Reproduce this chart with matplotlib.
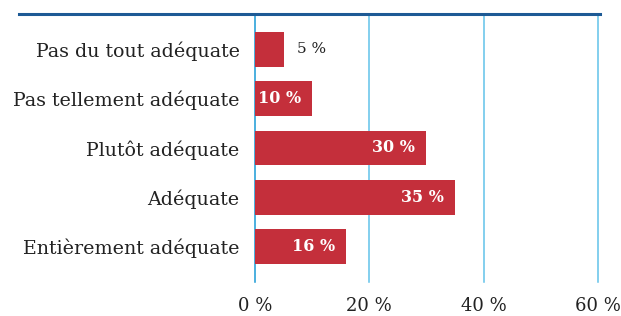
import matplotlib.pyplot as plt
from matplotlib.lines import Line2D

categories = ["Pas du tout adéquate", "Pas tellement adéquate", "Plutôt adéquate",
              "Adéquate", "Entièrement adéquate"]
values = [5, 10, 30, 35, 16]
ticks = [0, 20, 40, 60]
tick_labels = ["0 %", "20 %", "40 %", "60 %"]

plt.rcParams['font.family'] = ['DejaVu Serif']

fig = plt.figure(figsize=(6.21, 3.16), dpi=100)
ax = fig.add_axes([0.4106, 0.1076, 0.5523, 0.8481])

bar_color = '#c42f3b'
ypos = list(range(len(categories)))
ax.barh(ypos, values, height=0.7, color=bar_color, zorder=3)

for y, v in zip(ypos, values):
    if v < 8:
        ax.annotate(f"{v} %", (v, y), xytext=(10, 0), textcoords='offset points',
                    va='center', ha='left', fontsize=11, color='#222222', zorder=4)
    else:
        ax.annotate(f"{v} %", (v, y), xytext=(-8, 0), textcoords='offset points',
                    va='center', ha='right', fontsize=11.5, color='white',
                    fontweight='bold', zorder=4)

ax.set_ylim(len(categories) - 0.28, -0.72)
ax.set_xlim(0, 60)
ax.set_yticks(ypos)
ax.set_yticklabels(categories, fontsize=13.7, color='#222222')
ax.set_xticks(ticks)
ax.set_xticklabels(tick_labels, fontsize=13, color='#222222')
ax.tick_params(axis='y', length=0, pad=11)
ax.tick_params(axis='x', length=0, pad=11)

for t in ticks:
    ax.axvline(t, color='#1a9ad6' if t == 0 else '#62c2ea', linewidth=1.1,
               zorder=1, clip_on=False)

for s in ax.spines.values():
    s.set_visible(False)

fig.add_artist(Line2D([19 / 621, 600 / 621], [1 - 14 / 316, 1 - 14 / 316],
                      transform=fig.transFigure, color='#1d5a95', linewidth=2.2))

fig.savefig('out.png', dpi=100)
